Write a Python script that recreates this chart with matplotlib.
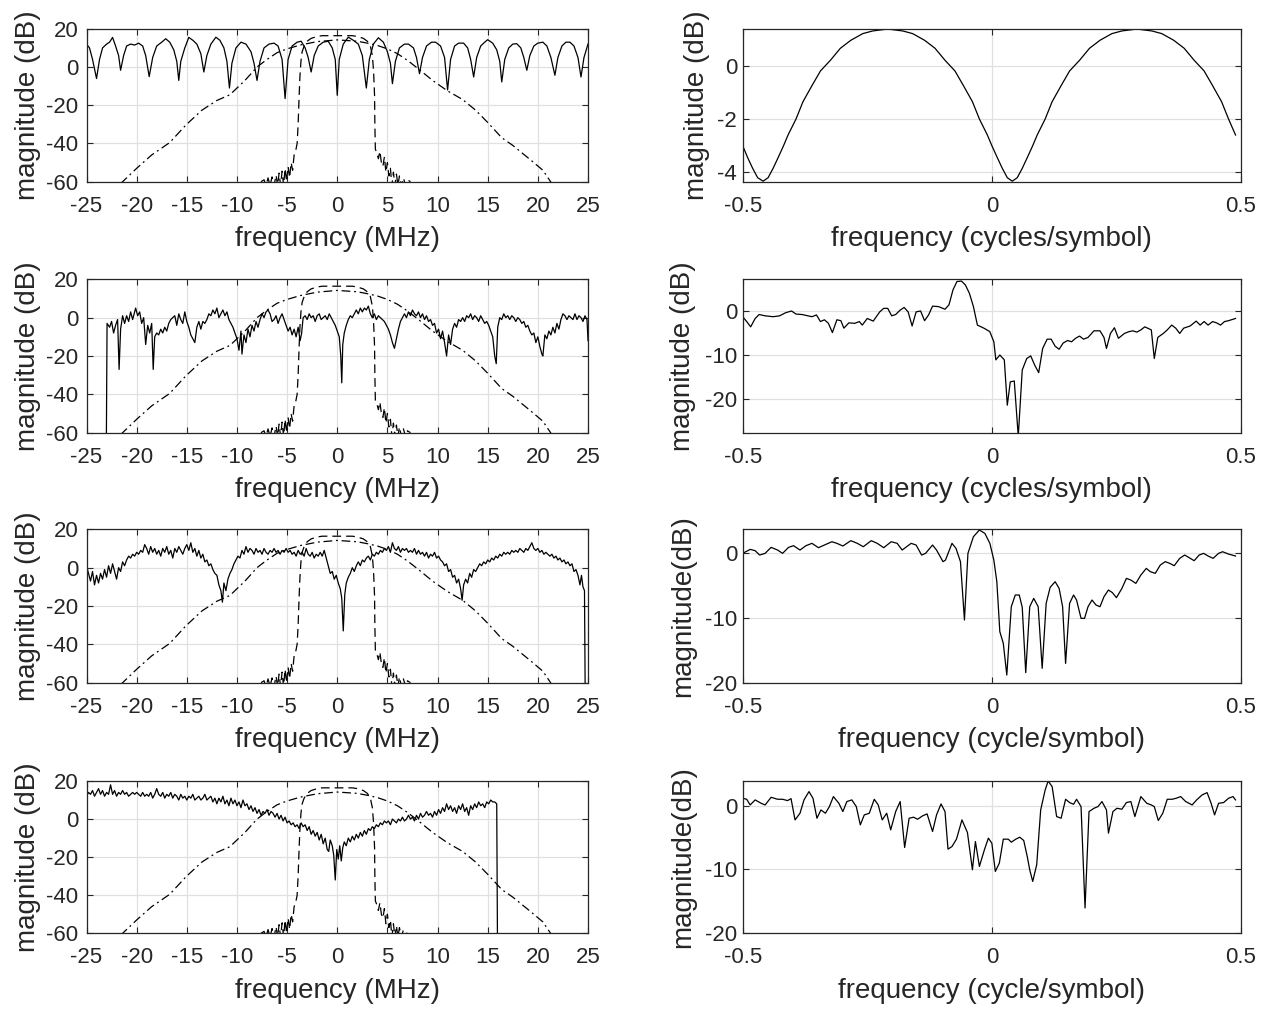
import matplotlib
matplotlib.use("Agg")
import matplotlib.pyplot as plt

plt.rcParams['font.family'] = ['Liberation Sans', 'DejaVu Sans']
plt.rcParams['axes.unicode_minus'] = False

# ---------------- common reference curves (left column) ----------------
dash_x = [-7.6, -7.3, -7.1, -6.9, -6.7, -6.5, -6.3, -6.1, -5.95, -5.8, -5.65, -5.5, -5.35, -5.2, -5.05,
          -4.9, -4.75, -4.6, -4.45, -4.3, -4.15, -4.0, -3.9, -3.8, -3.72, -3.62, -3.5, -3.3, -3.0, -2.6,
          -2.0, -1.5, 0.0, 1.5, 2.0, 2.6, 3.0, 3.3, 3.5, 3.62, 3.72, 3.75, 3.8, 3.95, 4.1, 4.25, 4.4,
          4.55, 4.7, 4.85, 5.0, 5.15, 5.3, 5.45, 5.6, 5.75, 5.9, 6.05, 6.2, 6.4, 6.6, 6.8, 7.0, 7.3]
dash_y = [-60, -59, -62, -58, -62, -57.5, -62, -56.5, -62, -55.5, -62, -54.5, -62, -53, -60,
          -52, -58, -50, -54, -46, -44, -40, -30, -15, -5, 3, 8, 11, 13.5, 15,
          16, 16.4, 16.4, 16.4, 16, 15, 13.5, 11, 6, -2, -15, -30, -43, -45, -48, -44, -50,
          -52, -47, -55, -50, -57, -53, -62, -55, -62, -56, -62, -57, -62, -58, -62, -59, -60]

dd_x = [-21.6, -20.0, -18.5, -16.7, -15.1, -13.5, -12.0, -10.7, -9.2, -8.0, -7.0, -6.0, -5.0, -3.7,
        -2.0, 0.0, 2.0, 3.0, 4.0, 5.0, 6.0, 7.0, 8.1, 9.5, 11.0, 12.5, 13.8, 15.0, 16.4, 17.5, 19.3,
        20.5, 21.4]
dd_y = [-61, -53, -46, -39.5, -30.4, -22.6, -17.5, -14.5, -7, 0, 4, 7.5, 9.5, 11.5,
        13.3, 14.2, 13.5, 12.5, 11.3, 9.5, 7, 3.5, -1, -7, -12.5, -17, -22.6, -29, -37, -41, -48.7,
        -54, -61]

# ---------------- left panel 1 ----------------
l1_x = [-25, -24.7, -24.4, -24.0, -23.7, -23.4, -23.0, -22.7, -22.4, -22.1, -21.8, -21.6, -21.3, -21.0,
        -20.6, -20.2, -19.8, -19.4, -19.1, -18.75, -18.4, -18.0, -17.5, -17.1, -16.7, -16.3, -16.0,
        -15.8, -15.6, -15.2, -14.8, -14.4, -14.0, -13.6, -13.3, -13.0, -12.6, -12.1, -11.7, -11.3,
        -11.0, -10.75, -10.5, -10.1, -9.6, -9.1, -8.6, -8.3, -8.0, -7.7, -7.3, -6.8, -6.3, -5.9, -5.5,
        -5.2, -4.9, -4.5, -4.0, -3.6, -3.2, -2.9, -2.6, -2.3, -1.9, -1.4, -0.9, -0.5, -0.2, 0.0, 0.2,
        0.6, 1.1, 1.6, 2.1, 2.5, 2.9, 3.2, 3.6, 4.1, 4.6, 5.0, 5.3, 5.5, 5.8, 6.2, 6.7, 7.1, 7.6, 7.9,
        8.2, 8.5, 8.9, 9.4, 9.8, 10.3, 10.7, 11.0, 11.3, 11.7, 12.1, 12.6, 13.0, 13.3, 13.6, 13.9,
        14.3, 14.7, 15.0, 15.5, 15.9, 16.2, 16.4, 16.7, 17.1, 17.5, 17.9, 18.3, 18.6, 18.9, 19.2, 19.6,
        20.0, 20.5, 20.9, 21.3, 21.7, 22.0, 22.4, 22.8, 23.2, 23.6, 24.0, 24.3, 24.6, 25.0]
l1_y = [12, 10, 4, -6, 4, 10, 12, 13, 15.5, 11, 6, -1.7, 6, 11,
        12, 11.5, 12.5, 11, 6, -5, 5, 11, 13, 14.8, 13, 9, 3,
        -7, 3, 10, 15.5, 14, 12, 7, -2.6, 6, 12, 15.6, 14, 10,
        3, -11, 2, 10, 13, 12, 8, 2, -7, 3, 10, 12, 12.5, 11, 4,
        -16.5, 4, 11, 13, 13.5, 10, 5, -2.6, 6, 11, 13, 13.5, 10, 4, -14.8, 4,
        12, 15.6, 14, 12, 6, -11, 4, 12, 15.3, 13, 8, 2, -8.7, 3, 10, 12, 12, 10, 5,
        -3.5, 5, 11, 13, 13, 11, 5, -12, 4, 11, 12.5, 12.5, 10, 4, -5.2, 5,
        11, 13, 14.3, 12.5, 9, 3, -7.8, 4, 10, 12, 12.2, 10, 5, -1.7, 6, 11,
        12.5, 13, 11, 5, -4.3, 5, 11, 13, 13, 11, 5, -5.2, 5, 12]

# ---------------- left panel 2 ----------------
l2_x = [-23.05, -22.95, -22.7, -22.5, -22.3, -22.1, -21.9, -21.75, -21.6, -21.4, -21.2, -21.0, -20.8,
        -20.6, -20.4, -20.1, -19.9, -19.7, -19.5, -19.3, -19.1, -18.9, -18.7, -18.5, -18.35, -18.2,
        -18.0, -17.8, -17.6, -17.4, -17.2, -17.0, -16.8, -16.6, -16.4, -16.2, -16.0, -15.8, -15.6,
        -15.4, -15.2, -15.0, -14.8, -14.6, -14.4, -14.2, -14.0, -13.8, -13.6, -13.4, -13.2, -13.0,
        -12.8, -12.6, -12.4, -12.2, -12.0, -11.8, -11.6, -11.4, -11.2, -11.0, -10.8, -10.6, -10.4,
        -10.2, -10.0, -9.8, -9.6, -9.5, -9.3, -9.1, -8.9, -8.7, -8.5, -8.3, -8.1, -7.9, -7.7, -7.5,
        -7.3, -7.1, -6.9, -6.7, -6.5, -6.3, -6.1, -5.9, -5.7, -5.5, -5.3, -5.1, -4.9, -4.7, -4.5,
        -4.3, -4.1, -3.9, -3.7, -3.55, -3.4, -3.2, -3.0, -2.8, -2.6, -2.4, -2.2, -2.0, -1.8, -1.6,
        -1.4, -1.2, -1.0, -0.8, -0.6, -0.4, -0.2, 0.0, 0.2, 0.35, 0.45, 0.55, 0.7, 0.9, 1.1, 1.3,
        1.5, 1.7, 1.9, 2.1, 2.3, 2.5, 2.7, 2.9, 3.1, 3.3, 3.5, 3.7, 3.9, 4.1, 4.3, 4.5, 4.7, 4.9,
        5.1, 5.3, 5.5, 5.7, 5.9, 6.1, 6.3, 6.5, 6.7, 6.9, 7.1, 7.3, 7.5, 7.7, 7.9, 8.1, 8.3, 8.5,
        8.7, 8.9, 9.1, 9.3, 9.5, 9.7, 9.9, 10.1, 10.3, 10.5, 10.7, 10.9, 11.1, 11.3, 11.5, 11.7,
        11.9, 12.1, 12.3, 12.5, 12.7, 12.9, 13.1, 13.3, 13.5, 13.7, 13.9, 14.1, 14.3, 14.5, 14.7,
        14.9, 15.1, 15.3, 15.5, 15.7, 15.85, 16.0, 16.2, 16.4, 16.6, 16.8, 17.0, 17.2, 17.4, 17.6,
        17.8, 18.0, 18.2, 18.4, 18.6, 18.8, 19.0, 19.2, 19.4, 19.6, 19.8, 20.0, 20.2, 20.4, 20.5,
        20.7, 20.9, 21.1, 21.3, 21.5, 21.7, 21.9, 22.1, 22.3, 22.5, 22.7, 22.9, 23.1, 23.3, 23.5,
        23.7, 23.9, 24.1, 24.3, 24.5, 24.7, 24.9, 25.0]
l2_y = [-90, -3, -5, -2, -8, -4, -1, -27, -6, 1, -3, 1, -2,
        3, -1, 5, 1, 3, -3, 0, -14, -4, -8, -3, -27, -10,
        -8, -9, -6, -8, -5, -7, -3, -1, 0, 1, -4, 2, -1,
        -3, 3, -2, -5, -9, -11, -13, -5, -2, -6, -2, -3, -1,
        2, 1, 4, 2, 5, 0, 2, 4, 1, 3, -1, -3, -5,
        -8, -11, -17, -7, -19, -9, -13, -6, -10, -4, -7, -2, -5, -1, 2,
        0, 3, 4, 2, -2, -1, 1, -3, 0, 2, -1, -4, -7, -5, -9,
        -6, -10, -5, -12, -8, 0, 1, -1, 2, 0, 1, -2, 1, 2, -1,
        0, 1, -1, 2, 0, -2, -4, -7, -10, -20, -34, -14, -8, -4, -1, 1,
        0, 2, 4, 2, 5, 3, 5, 4, 6, 2, 0, 2, -1, 1, 0, -1, -2, -4,
        -6, -9, -13, -16, -11, -6, -2, 0, 2, 0, 3, 1, 4, 2, 1, 3, 0, 2,
        -1, 1, -2, -1, -4, -3, -8, -6, -11, -7, -13, -20, -9, -14, -6, -3,
        -5, -1, -2, 0, -2, 1, 0, 2, -1, 1, 0, -2, 1, -1, -3,
        -2, -4, -7, -10, -20, -24, -5, 0, -1, 2, 0, 1, -1, 1, 0,
        -2, 0, -1, -3, -2, -5, -4, -7, -9, -8, -13, -10, -15, -19, -20,
        -9, -11, -7, -9, -5, -8, -3, -6, -1, 2, 1, -1, 1, 0, -1,
        2, -1, 1, 0, -2, 1, -1, -12]

# ---------------- left panel 3 ----------------
l3_x = [-25.0, -24.8, -24.6, -24.4, -24.2, -24.0, -23.8, -23.6, -23.4, -23.2, -23.0, -22.8, -22.6,
        -22.4, -22.2, -22.0, -21.8, -21.6, -21.4, -21.2, -21.0, -20.8, -20.6, -20.4, -20.2, -20.0,
        -19.8, -19.6, -19.4, -19.2, -19.0, -18.8, -18.6, -18.4, -18.2, -18.0, -17.8, -17.6, -17.4,
        -17.2, -17.0, -16.8, -16.6, -16.4, -16.2, -16.0, -15.8, -15.6, -15.4, -15.2, -15.0, -14.8,
        -14.6, -14.4, -14.2, -14.0, -13.8, -13.6, -13.4, -13.2, -13.0, -12.8, -12.6, -12.4, -12.2,
        -12.0, -11.8, -11.6, -11.45, -11.3, -11.1, -10.9, -10.7, -10.5, -10.3, -10.1, -9.9, -9.7,
        -9.5, -9.3, -9.1, -8.9, -8.7, -8.5, -8.3, -8.1, -7.9, -7.7, -7.5, -7.3, -7.1, -6.9, -6.7,
        -6.5, -6.3, -6.1, -5.9, -5.7, -5.5, -5.3, -5.1, -4.9, -4.7, -4.5, -4.3, -4.1, -3.9, -3.7,
        -3.5, -3.3, -3.1, -2.9, -2.7, -2.5, -2.3, -2.1, -1.9, -1.7, -1.5, -1.3, -1.1, -0.9, -0.7,
        -0.5, -0.3, -0.1, 0.1, 0.3, 0.45, 0.6, 0.75, 0.9, 1.1, 1.3, 1.5, 1.7, 1.9, 2.1, 2.3, 2.5,
        2.7, 2.9, 3.1, 3.3, 3.5, 3.7, 3.9, 4.1, 4.3, 4.5, 4.7, 4.9, 5.1, 5.3, 5.5, 5.7, 5.9, 6.1,
        6.3, 6.5, 6.7, 6.9, 7.1, 7.3, 7.5, 7.7, 7.9, 8.1, 8.3, 8.5, 8.7, 8.9, 9.1, 9.3, 9.5, 9.7,
        9.9, 10.1, 10.3, 10.5, 10.7, 10.9, 11.1, 11.3, 11.5, 11.7, 11.9, 12.1, 12.3, 12.45, 12.6,
        12.8, 13.0, 13.2, 13.4, 13.6, 13.8, 14.0, 14.2, 14.4, 14.6, 14.8, 15.0, 15.2, 15.4, 15.6,
        15.8, 16.0, 16.2, 16.4, 16.6, 16.8, 17.0, 17.2, 17.4, 17.6, 17.8, 18.0, 18.2, 18.4, 18.6,
        18.8, 19.0, 19.2, 19.4, 19.6, 19.8, 20.0, 20.2, 20.4, 20.6, 20.8, 21.0, 21.2, 21.4, 21.6,
        21.8, 22.0, 22.2, 22.4, 22.6, 22.8, 23.0, 23.2, 23.4, 23.6, 23.8, 24.0, 24.2, 24.35, 24.5,
        24.65, 24.75]
l3_y = [1, -3, -7, -2, -9, -4, -8, -3, -6, -1, -5, 1, -3,
        2, -2, -6, 0, -2, 3, 1, 4, 6, 5, 7, 6, 8,
        7, 9, 8, 12, 10, 7, 11, 8, 10, 7, 9, 6, 10,
        8, 11, 7, 9, 5, 10, 8, 11, 9, 7, 10, 12, 9,
        13, 8, 10, 6, 9, 5, 7, 3, 4, 1, 2, -1, -3,
        -4, -9, -12, -18, -8, -12, -6, -3, -1, 2, 4, 6, 5,
        9, 7, 11, 8, 10, 9, 7, 10, 8, 9, 7, 10, 8, 7, 9,
        8, 10, 8, 9, 7, 9, 8, 10, 8, 9, 7, 8, 6, 9, 7,
        8, 6, 10, 7, 6, 8, 5, 7, 6, 8, 6, 9, 5, 1, -3,
        -2, -6, -4, -8, -11, -16, -33, -14, -8, -5, -3, 0, -2, 1, 3, 1, 4,
        3, 5, 6, 4, 7, 6, 8, 7, 9, 8, 10, 9, 11, 8, 13, 10, 9, 11,
        8, 10, 9, 10, 8, 9, 8, 10, 7, 9, 7, 8, 6, 8, 5, 7, 6, 8,
        5, 6, 4, 3, 1, 2, -2, -1, -5, -4, -8, -6, -11, -17, -9,
        -6, -8, -3, -5, -1, -2, 0, 2, 1, 3, 2, 4, 3, 5, 4,
        6, 5, 7, 6, 8, 7, 8, 7, 9, 8, 9, 8, 10, 9, 8,
        10, 9, 11, 13, 10, 9, 10, 8, 9, 7, 8, 7, 6, 7, 5,
        6, 4, 5, 3, 4, 2, 3, 1, 2, -2, -1, -4, -9, -4, -10,
        -12, -90]

# ---------------- left panel 4 ----------------
l4_x = [-25.0, -24.8, -24.6, -24.4, -24.2, -24.0, -23.8, -23.6, -23.4, -23.2, -23.0, -22.8, -22.6,
        -22.4, -22.2, -22.0, -21.8, -21.6, -21.4, -21.2, -21.0, -20.8, -20.6, -20.4, -20.2, -20.0,
        -19.8, -19.6, -19.4, -19.2, -19.0, -18.8, -18.6, -18.4, -18.2, -18.0, -17.8, -17.6, -17.4,
        -17.2, -17.0, -16.8, -16.6, -16.4, -16.2, -16.0, -15.8, -15.6, -15.4, -15.2, -15.0, -14.8,
        -14.6, -14.4, -14.2, -14.0, -13.8, -13.6, -13.4, -13.2, -13.0, -12.8, -12.6, -12.4, -12.2,
        -12.0, -11.8, -11.6, -11.4, -11.2, -11.0, -10.8, -10.6, -10.4, -10.2, -10.0, -9.8, -9.6,
        -9.4, -9.2, -9.0, -8.8, -8.6, -8.4, -8.2, -8.0, -7.8, -7.6, -7.4, -7.2, -7.0, -6.8, -6.6,
        -6.4, -6.2, -6.0, -5.8, -5.6, -5.4, -5.2, -5.0, -4.8, -4.6, -4.4, -4.2, -4.0, -3.8, -3.6,
        -3.4, -3.2, -3.0, -2.8, -2.6, -2.4, -2.2, -2.0, -1.8, -1.6, -1.4, -1.2, -1.0, -0.85, -0.7,
        -0.5, -0.35, -0.2, -0.05, 0.1, 0.25, 0.4, 0.55, 0.7, 0.9, 1.1, 1.3, 1.5, 1.7, 1.9, 2.1,
        2.3, 2.5, 2.7, 2.9, 3.1, 3.3, 3.5, 3.7, 3.9, 4.1, 4.3, 4.5, 4.7, 4.9, 5.1, 5.3, 5.5, 5.7,
        5.9, 6.1, 6.3, 6.5, 6.7, 6.9, 7.1, 7.3, 7.5, 7.7, 7.9, 8.1, 8.3, 8.5, 8.7, 8.9, 9.1, 9.3,
        9.5, 9.7, 9.9, 10.1, 10.3, 10.5, 10.7, 10.9, 11.1, 11.3, 11.5, 11.7, 11.9, 12.1, 12.3, 12.5,
        12.7, 12.9, 13.1, 13.3, 13.5, 13.7, 13.9, 14.1, 14.3, 14.5, 14.7, 14.9, 15.1, 15.3, 15.5,
        15.7, 15.9, 16.0]
l4_y = [12, 14, 13, 15, 12, 14, 16, 13, 15, 12, 14, 13, 18,
        13, 15, 12, 14, 13, 15, 13, 14, 12, 13, 14, 13, 14,
        13, 12, 14, 12, 13, 12, 14, 11, 13, 16, 13, 12, 14,
        11, 13, 12, 14, 11, 13, 12, 10, 13, 11, 12, 10, 12,
        11, 13, 10, 11, 12, 10, 11, 13, 10, 11, 12, 9, 11,
        8, 11, 9, 12, 8, 10, 7, 11, 8, 10, 7, 9, 6,
        10, 7, 8, 5, 7, 4, 6, 3, 5, 2, 4, 3, 5, 2, 4,
        3, 1, 3, 0, 2, -1, 1, -2, -1, -3, -2, -4, -3, -5, -2,
        -4, -3, -6, -4, -8, -6, -9, -7, -11, -8, -13, -10, -16, -17, -11,
        -14, -19, -32, -16, -21, -14, -22, -15, -12, -14, -10, -12, -9, -11, -8, -10,
        -7, -9, -6, -8, -5, -6, -4, -5, -3, -4, -2, -3, -1, -2, -1, -3, 0, -1,
        -2, 0, -1, 1, -1, 0, 2, 0, 1, -1, 2, 0, 3, 1, 2, 4, 2, 3,
        1, 4, 2, 5, 3, 6, 4, 8, 5, 7, 4, 6, 3, 7, 5, 8,
        4, 6, 2, 7, 5, 8, 6, 9, 7, 8, 6, 9, 8, 10, 9,
        9, 8, -90]

# ---------------- right panels ----------------
r1_x = [-0.500, -0.490, -0.480, -0.470, -0.459, -0.449, -0.439, -0.429, -0.418, -0.409, -0.393, -0.379,
        -0.361, -0.344, -0.324, -0.304, -0.283, -0.259, -0.239, -0.209, -0.179, -0.159, -0.135, -0.114,
        -0.094, -0.074, -0.057, -0.039, -0.025, -0.009, 0.000, 0.011, 0.021, 0.031, 0.041, 0.051, 0.061,
        0.071, 0.082, 0.091, 0.107, 0.121, 0.139, 0.156, 0.176, 0.196, 0.217, 0.241, 0.261, 0.291,
        0.321, 0.341, 0.365, 0.386, 0.406, 0.426, 0.443, 0.461, 0.475, 0.489]
r1_y = [-3.00, -3.45, -3.85, -4.20, -4.33, -4.20, -3.85, -3.45, -3.00, -2.60, -2.00, -1.35,
        -0.75, -0.20, 0.20, 0.65, 0.95, 1.20, 1.30, 1.37, 1.30, 1.20, 0.95, 0.65,
        0.20, -0.20, -0.75, -1.35, -2.00, -2.60, -3.00, -3.45, -3.85, -4.20, -4.33, -4.20, -3.85,
        -3.45, -3.00, -2.60, -2.00, -1.35, -0.75, -0.20, 0.20, 0.65, 0.95, 1.20, 1.30, 1.37,
        1.30, 1.20, 0.95, 0.65, 0.20, -0.20, -0.75, -1.35, -2.00, -2.60]

r2_x = [-0.500, -0.492, -0.484, -0.475, -0.467, -0.455, -0.439, -0.426, -0.414, -0.402, -0.393, -0.381,
        -0.369, -0.361, -0.352, -0.344, -0.336, -0.328, -0.320, -0.311, -0.303, -0.297, -0.287, -0.275,
        -0.266, -0.260, -0.250, -0.238, -0.225, -0.217, -0.209, -0.201, -0.193, -0.184, -0.176, -0.168,
        -0.160, -0.152, -0.143, -0.135, -0.127, -0.119, -0.107, -0.094, -0.086, -0.078, -0.070, -0.061,
        -0.053, -0.045, -0.037, -0.029, -0.016, -0.004, 0.004, 0.008, 0.016, 0.025, 0.031, 0.037,
        0.045, 0.053, 0.061, 0.070, 0.078, 0.086, 0.094, 0.102, 0.111, 0.119, 0.127, 0.135, 0.143,
        0.152, 0.160, 0.168, 0.176, 0.184, 0.193, 0.205, 0.217, 0.225, 0.230, 0.238, 0.246, 0.254,
        0.266, 0.275, 0.283, 0.291, 0.299, 0.307, 0.320, 0.326, 0.333, 0.344, 0.352, 0.361, 0.369,
        0.377, 0.385, 0.398, 0.410, 0.418, 0.426, 0.434, 0.443, 0.451, 0.459, 0.467, 0.475, 0.489]
r2_y = [-1.3, -2.4, -3.6, -1.7, -0.8, -1.1, -1.3, -1.1, -0.4, 0.0, -0.7, -0.8,
        -1.1, -1.3, -0.9, -2.4, -2.0, -2.8, -4.9, -2.0, -2.2, -3.9, -2.7, -2.8,
        -2.4, -3.2, -1.7, -2.3, -0.2, 0.6, 0.6, -1.1, -0.8, 0.2, 0.8, -0.2,
        -3.4, -0.2, 0.0, -2.2, -0.9, 1.1, 1.0, 0.4, 1.4, 4.8, 6.7, 6.8,
        5.9, 4.0, 1.0, -3.2, -3.9, -4.7, -7.0, -11.1, -10.0, -11.1, -21.4, -16.1,
        -15.9, -28.5, -13.4, -10.8, -10.2, -12.3, -14.0, -8.5, -6.4, -6.4, -8.0, -8.7, -7.3,
        -6.7, -7.0, -6.2, -5.7, -6.4, -6.0, -4.5, -4.5, -6.0, -8.5, -5.1, -3.8, -6.2,
        -5.1, -4.7, -4.5, -4.8, -4.3, -3.6, -4.3, -10.8, -6.0, -5.1, -4.3, -3.2, -3.9,
        -5.1, -3.9, -3.4, -2.3, -3.2, -2.4, -3.2, -2.4, -2.7, -3.2, -2.4, -2.2, -1.7]

r3_x = [-0.500, -0.485, -0.475, -0.466, -0.455, -0.443, -0.430, -0.420, -0.408, -0.398, -0.385, -0.373,
        -0.361, -0.348, -0.336, -0.321, -0.311, -0.299, -0.283, -0.270, -0.258, -0.242, -0.230, -0.217,
        -0.202, -0.190, -0.180, -0.162, -0.152, -0.141, -0.133, -0.119, -0.111, -0.098, -0.093, -0.080,
        -0.072, -0.063, -0.055, -0.048, -0.037, -0.025, -0.014, -0.004, 0.004, 0.010, 0.016, 0.023,
        0.030, 0.039, 0.047, 0.055, 0.061, 0.068, 0.076, 0.084, 0.093, 0.101, 0.109, 0.117, 0.127,
        0.135, 0.142, 0.148, 0.156, 0.164, 0.170, 0.179, 0.186, 0.193, 0.201, 0.209, 0.217, 0.225,
        0.234, 0.242, 0.250, 0.261, 0.270, 0.279, 0.289, 0.299, 0.310, 0.318, 0.328, 0.338, 0.348,
        0.357, 0.366, 0.377, 0.387, 0.395, 0.406, 0.416, 0.425, 0.434, 0.444, 0.455, 0.463, 0.475,
        0.489]
r3_y = [-0.10, 0.51, 0.31, -0.36, -0.10, 0.82, 0.41, -0.10, 0.82, 1.08, 0.41, 1.08,
        1.44, 0.77, 1.18, 1.69, 1.44, 1.03, 1.85, 1.44, 0.92, 1.85, 1.44, 0.77,
        1.69, 1.44, 0.41, 1.44, 1.18, -0.36, -0.10, 1.18, 0.41, -1.38, -1.13, 1.44,
        0.67, -1.38, -10.36, -0.10, 2.46, 3.49, 2.97, 1.44, -1.13, -4.46, -12.15, -13.95,
        -18.82, -8.31, -6.51, -6.51, -8.41, -18.46, -8.31, -7.03, -8.31, -17.79, -7.79, -5.33, -4.46,
        -5.49, -8.31, -17.03, -7.79, -6.51, -7.28, -10.10, -10.10, -8.31, -7.28, -8.05, -8.31, -6.77,
        -5.74, -6.15, -6.92, -5.49, -3.95, -4.21, -4.72, -3.44, -2.41, -2.92, -3.18, -1.90, -1.38,
        -1.64, -2.00, -0.87, -0.36, -0.72, -1.23, -0.36, -0.10, -0.51, -0.87, -0.10, 0.15, -0.21,
        -0.51]

r4_x = [-0.500, -0.492, -0.485, -0.475, -0.463, -0.455, -0.443, -0.430, -0.420, -0.410, -0.403, -0.395,
        -0.385, -0.377, -0.367, -0.359, -0.351, -0.343, -0.334, -0.326, -0.318, -0.307, -0.299, -0.291,
        -0.281, -0.272, -0.264, -0.256, -0.246, -0.236, -0.228, -0.220, -0.211, -0.203, -0.193, -0.184,
        -0.175, -0.166, -0.157, -0.149, -0.139, -0.130, -0.119, -0.111, -0.102, -0.094, -0.088, -0.080,
        -0.071, -0.060, -0.049, -0.039, -0.033, -0.025, -0.015, -0.007, 0.000, 0.007, 0.015, 0.023,
        0.033, 0.039, 0.048, 0.056, 0.064, 0.071, 0.076, 0.082, 0.090, 0.098, 0.107, 0.113, 0.121,
        0.130, 0.139, 0.148, 0.156, 0.164, 0.170, 0.179, 0.187, 0.195, 0.205, 0.213, 0.221, 0.230,
        0.234, 0.243, 0.251, 0.261, 0.270, 0.279, 0.287, 0.299, 0.311, 0.320, 0.326, 0.334, 0.343,
        0.352, 0.362, 0.370, 0.379, 0.389, 0.402, 0.411, 0.422, 0.432, 0.440, 0.447, 0.455, 0.465,
        0.475, 0.484, 0.489]
r4_y = [1.15, 0.99, 0.10, 0.89, 0.36, 0.10, 1.30, 0.99, 0.99, 0.78, 1.09, -2.24,
        -1.20, 0.89, 2.19, 1.15, -1.98, -0.68, -1.20, -0.16, 1.41, 0.36, -0.94, 0.63,
        0.89, -0.16, -3.02, -1.46, -1.20, 0.99, 0.10, -2.24, -1.20, -3.80, -0.94, 0.63,
        -6.56, -1.98, -1.82, -2.14, -1.61, -1.30, -4.06, -1.46, 0.26, -0.94, -6.82, -6.41,
        -5.26, -2.24, -4.22, -10.05, -5.63, -9.53, -6.93, -5.10, -5.89, -10.31, -9.01, -5.26,
        -5.26, -5.73, -5.26, -4.95, -5.47, -7.97, -10.05, -11.88, -9.27, -0.68, 2.45, 3.85, 2.97,
        -1.72, -1.98, 0.99, 0.47, 0.21, 0.99, -0.16, -16.04, -0.94, -0.42, -0.16, 0.63, -0.68,
        -4.32, -0.94, -0.42, -0.57, 0.47, 0.63, -1.72, 1.41, 0.36, 0.10, -0.16, -2.34, -1.20,
        0.99, 0.99, 1.15, 1.41, 0.63, 0.10, 0.89, 1.67, 2.03, 0.36, -1.46, 0.36, 0.47,
        1.15, 1.41, 0.89]

left_xticks = [-25, -20, -15, -10, -5, 0, 5, 10, 15, 20, 25]
left_yticks = [-60, -40, -20, 0, 20]
right_xticks = [-0.5, 0, 0.5]

GRAY = '#262626'
W, H = 1262, 1009
fig = plt.figure(figsize=(W / 100, H / 100), dpi=100)

rows_px = [(28.8, 181.7), (279.3, 432.7), (529.3, 682.7), (781.0, 933.3)]
left_px = (86.5, 588.0)
right_px = (742.7, 1241.0)


def make_ax(xp, yp):
    x0, x1 = xp
    y0, y1 = yp
    return fig.add_axes([x0 / W, 1 - y1 / H, (x1 - x0) / W, (y1 - y0) / H])


def style(ax, ypad):
    ax.grid(True, color='#e0e0e0', lw=0.9)
    ax.set_axisbelow(True)
    for s in ax.spines.values():
        s.set_color(GRAY)
        s.set_linewidth(0.9)
    ax.tick_params(direction='in', top=True, right=True, length=4.5, width=0.8,
                   colors=GRAY, labelsize=16, labelcolor=GRAY)
    ax.tick_params(axis='x', pad=10)
    ax.tick_params(axis='y', pad=ypad)


LW = 0.9
LABEL_FS = 20
left_data = [(l1_x, l1_y), (l2_x, l2_y), (l3_x, l3_y), (l4_x, l4_y)]
for i, (xs, ys) in enumerate(left_data):
    ax = make_ax(left_px, rows_px[i])
    ax.plot(xs, ys, color='black', lw=LW)
    ax.plot(dash_x, dash_y, color='black', lw=LW, linestyle=(0, (7, 4)))
    ax.plot(dd_x, dd_y, color='black', lw=LW, linestyle=(0, (7, 3, 1.5, 3)))
    ax.set_xlim(-25, 25)
    ax.set_ylim(-60, 20)
    ax.set_xticks(left_xticks)
    ax.set_yticks(left_yticks)
    style(ax, 6)
    ax.set_xlabel('frequency (MHz)', fontsize=LABEL_FS, color=GRAY, labelpad=7)
    ax.set_ylabel('magnitude (dB)', fontsize=LABEL_FS, color=GRAY)
    ax.yaxis.set_label_coords(-0.090, 0.5)

right_cfg = [
    (r1_x, r1_y, (-4.35, 1.38), [-4, -2, 0], 'magnitude (dB)', 'frequency (cycles/symbol)', -0.066),
    (r2_x, r2_y, (-27.65, 7.2), [-20, -10, 0], 'magnitude (dB)', 'frequency (cycles/symbol)', -0.094),
    (r3_x, r3_y, (-20, 3.6), [-20, -10, 0], 'magnitude(dB)', 'frequency (cycle/symbol)', -0.094),
    (r4_x, r4_y, (-20, 3.85), [-20, -10, 0], 'magnitude(dB)', 'frequency (cycle/symbol)', -0.094),
]
for i, (xs, ys, yl, yt, ylab, xlab, ylx) in enumerate(right_cfg):
    ax = make_ax(right_px, rows_px[i])
    ax.plot(xs, ys, color='black', lw=LW)
    ax.set_xlim(-0.5, 0.5)
    ax.set_ylim(*yl)
    ax.set_xticks(right_xticks)
    ax.set_xticklabels(['-0.5', '0', '0.5'])
    ax.set_yticks(yt)
    style(ax, 4)
    ax.set_xlabel(xlab, fontsize=LABEL_FS, color=GRAY, labelpad=7)
    ax.set_ylabel(ylab, fontsize=LABEL_FS, color=GRAY)
    ax.yaxis.set_label_coords(ylx, 0.5)

fig.savefig('out.png', dpi=100)
